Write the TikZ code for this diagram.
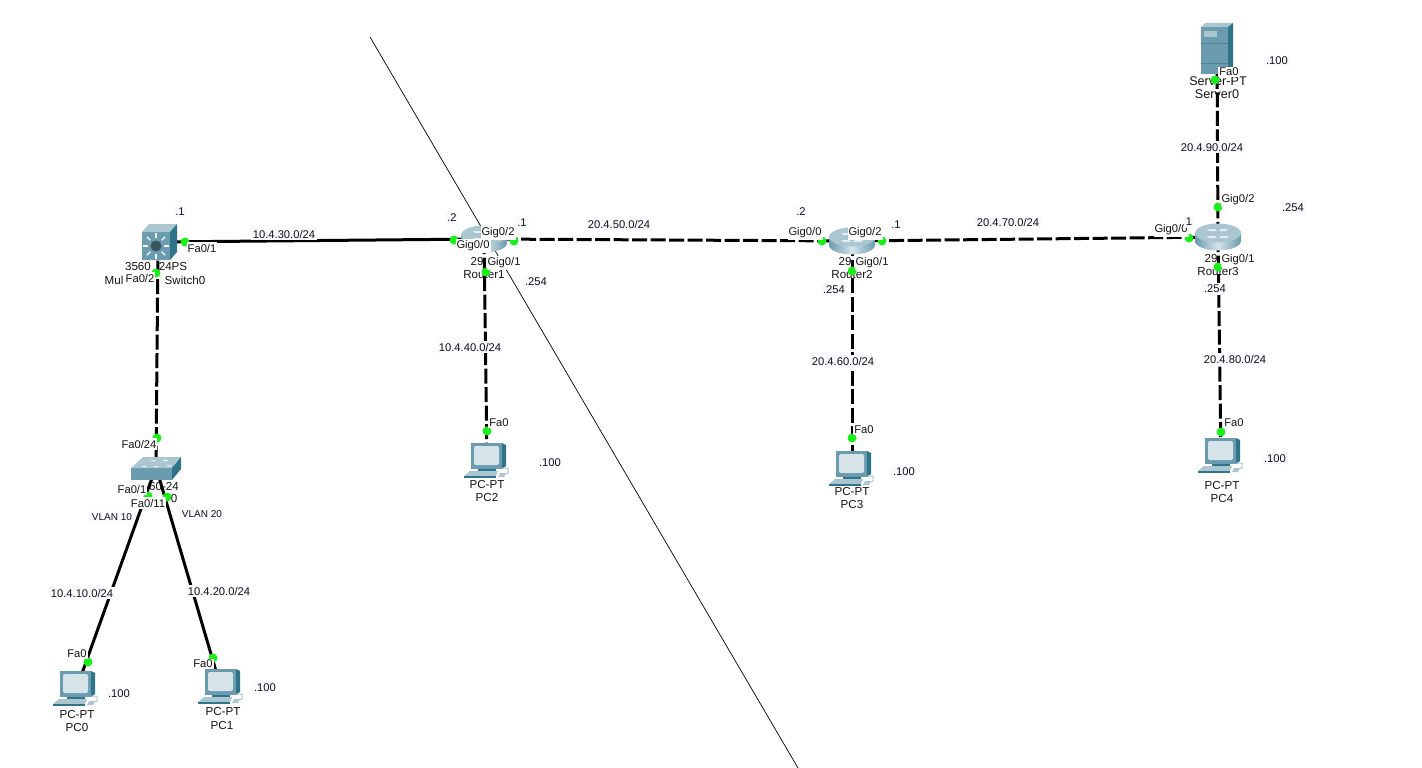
\documentclass[tikz,border=0pt]{standalone}
\usepackage{fontspec}
\setmainfont{Liberation Sans}
\usetikzlibrary{shadings}

\definecolor{icondark}{HTML}{2F7488}
\definecolor{iconmid}{HTML}{6A9BAE}
\definecolor{iconlight}{HTML}{A9C6D1}
\definecolor{iconpale}{HTML}{D6E4EA}
\definecolor{labelbg}{HTML}{F9F9FE}
\definecolor{portgreen}{HTML}{19F019}

\tikzset{
	link/.style={line width=3pt,black},
	xlink/.style={link,dash pattern=on 15pt off 3.5pt},
	devpos/.style={inner sep=0pt,minimum size=0pt},
	port/.style={circle,fill=portgreen,inner sep=0pt,minimum size=9pt},
	devlabel/.style={inner sep=0pt,font=\fontsize{11.6}{13}\selectfont,text=black!92},
	srvlabel/.style={devlabel,font=\fontsize{12.6}{13}\selectfont},
	portlabel/.style={fill=white,inner xsep=1pt,inner ysep=1.5pt,font=\fontsize{11.2}{13}\selectfont,text=black!92},
	netlabel/.style={fill=labelbg,inner xsep=2pt,inner ysep=2pt,font=\fontsize{11.2}{13}\selectfont,text=black!92},
	vlanlabel/.style={netlabel,font=\fontsize{10}{13}\selectfont},
	pcicon/.pic={
		% Monitor
		\fill[iconmid] (-16,-19) -- (15,-19) -- (15,7) -- (-16,7) -- cycle;
		\fill[icondark] (15,-19) -- (19,-17) -- (19,4) -- (15,7) -- cycle;
		\fill[iconpale,rounded corners=2pt] (-13,-16) rectangle (12,3);
		% Base and keyboard
		\fill[icondark] (-9,7) -- (9,7) -- (9,9) -- (-9,9) -- cycle;
		\fill[iconlight] (-17,9) -- (11,9) -- (9,14) -- (-23,14) -- cycle;
		\fill[icondark] (-23,14) -- (9,14) -- (9,16) -- (-23,16) -- cycle;
		\draw[iconlight,line width=1pt] (15,6) -- (21,6) -- (21,11) -- (17,12);
		\fill[iconlight] (13,11) -- (19,11) -- (17,15) -- (11,15) -- cycle;
	},
	routericon/.pic={
		% Body, then top
		\shade[left color=iconmid,right color=iconmid,middle color=iconpale] (-23,-4) -- (-23,4) arc (180:0:23 and 9.5) -- (23,-4) -- cycle;
		\fill[iconlight] (0,-4) ellipse (23 and 9.5);
		\fill[white!70!iconlight] (-11,-8) -- (-3,-8) -- (-1,-6) -- (-9,-6) -- cycle;
		\fill[white!70!iconlight] (3,-1) -- (11,-1) -- (9,1) -- (1,1) -- cycle;
		\fill[white!70!iconlight] (3,-8) -- (10,-8) -- (8,-6) -- (1,-6) -- cycle;
		\fill[white!70!iconlight] (-11,-1) -- (-3,-1) -- (-1,1) -- (-9,1) -- cycle;
	},
	mlsicon/.pic={
		\fill[iconmid] (-16,-10) rectangle (12,18);
		\fill[iconlight] (-16,-10) -- (-9,-18) -- (19,-18) -- (12,-10) -- cycle;
		\fill[icondark] (12,-10) -- (19,-18) -- (19,10) -- (12,18) -- cycle;
		\foreach \ang in {0,45,...,315}
			\draw[white!85!iconlight,line width=1.3pt] (-2,4) ++(\ang:8) -- ++(\ang:5);
		\fill[black!45!iconmid] (-2,4) circle (5.5);
	},
	swicon/.pic={
		\fill[iconmid] (-25,1) rectangle (16,13);
		\fill[iconlight] (-25,1) -- (-13,-10) -- (25,-10) -- (16,1) -- cycle;
		\fill[icondark] (16,1) -- (25,-10) -- (25,2) -- (16,13) -- cycle;
		\foreach \posx/\posy in {-4/-7,8/-7,-13/-1,-1/-1,12/-2}
			\fill[white!80!iconlight] (\posx,\posy) -- ++(4,0) -- ++(-1.5,1.2) -- ++(-4,0) -- cycle;
	},
	servicon/.pic={
		\fill[iconmid] (-16,-21) rectangle (11,26);
		\fill[iconlight] (-16,-21) -- (-12,-25) -- (16,-25) -- (11,-21) -- cycle;
		\fill[icondark] (11,-21) -- (16,-25) -- (16,21) -- (11,26) -- cycle;
		\fill[iconlight] (-13,-17) rectangle (0,-11);
		\draw[icondark!60!iconmid,line width=0.4pt] (-16,-5) -- (11,-5);
		\draw[icondark!60!iconmid,line width=0.4pt] (-16,15) -- (11,15);
	},
}

\begin{document}
\begin{tikzpicture}[x=1pt,y=-1pt]
	\useasboundingbox (0,0) rectangle (1422,768);
	
	% Boundary line
	\coordinate (bordertop) at (370,37);
	\coordinate (borderbot) at (798,768);
	\draw[line width=0.7pt] (bordertop) -- (borderbot);
	
	% Device positions
	\node[devpos] (sw0) at (158,242) {};
	\node[devpos] (sw1) at (156,467) {};
	\node[devpos] (r1) at (484,239) {};
	\node[devpos] (r2) at (852,241) {};
	\node[devpos] (r3) at (1218,237) {};
	\node[devpos] (srv) at (1217,48) {};
	\node[devpos] (pc0) at (76,690) {};
	\node[devpos] (pc1) at (221,688) {};
	\node[devpos] (pc2) at (487,462) {};
	\node[devpos] (pc3) at (852,470) {};
	\node[devpos] (pc4) at (1221,457) {};
	
	% Device names
	\node[devlabel] (sw0a) at (138,267) {3560};
	\node[devlabel] (sw0b) at (173,267) {24PS};
	\node[devlabel] (sw0c) at (114,280) {Mul};
	\node[devlabel] (sw0d) at (185,280) {Switch0};
	\node[devlabel] (sw1a) at (164,487) {60-24};
	\node[devlabel] (sw1b) at (174,499) {0};
	\node[devlabel] (r1a) at (477,262) {29};
	\node[devlabel] (r1b) at (484,275) {Router1};
	\node[devlabel] (r2a) at (845,262) {29};
	\node[devlabel] (r2b) at (852,275) {Router2};
	\node[devlabel] (r3a) at (1211,259) {29};
	\node[devlabel] (r3b) at (1218,272) {Router3};
	\node[srvlabel] (srva) at (1218,81) {Server-PT};
	\node[srvlabel] (srvb) at (1217,94) {Server0};
	\node[devlabel] (pc0a) at (77,714) {PC-PT};
	\node[devlabel] (pc0b) at (77,727) {PC0};
	\node[devlabel] (pc1a) at (223,712) {PC-PT};
	\node[devlabel] (pc1b) at (222,725) {PC1};
	\node[devlabel] (pc2a) at (487,485) {PC-PT};
	\node[devlabel] (pc2b) at (487,498) {PC2};
	\node[devlabel] (pc3a) at (852,492) {PC-PT};
	\node[devlabel] (pc3b) at (852,505) {PC3};
	\node[devlabel] (pc4a) at (1222,486) {PC-PT};
	\node[devlabel] (pc4b) at (1222,499) {PC4};
	
	% Links
	\draw[link] (sw0) -- (r1);
	\draw[xlink] (sw0) -- (sw1);
	\draw[link] (sw1) -- (pc0);
	\draw[link] (sw1) -- (pc1);
	\draw[xlink] (r1) -- (r2);
	\draw[xlink] (r2) -- (r3);
	\draw[xlink] (r1) -- (pc2);
	\draw[xlink] (r2) -- (pc3);
	\draw[xlink] (r3) -- (pc4);
	\draw[xlink] (r3) -- (srv);
	
	% Icons
	\pic at (sw0) {mlsicon};
	\pic at (sw1) {swicon};
	\pic at (r1) {routericon};
	\pic at (r2) {routericon};
	\pic at (r3) {routericon};
	\pic at (srv) {servicon};
	\pic at (pc0) {pcicon};
	\pic at (pc1) {pcicon};
	\pic at (pc2) {pcicon};
	\pic at (pc3) {pcicon};
	\pic at (pc4) {pcicon};
	
	% Port dots
	\foreach \dotname/\dotx/\doty in {sw0p1/185/242,sw0p2/156/273,sw1p24/157/438,sw1p1/148/496,sw1p2/167/497,pc0p/88/662,pc1p/213/658,
		r1p0/454/240,r1p1/486/272,r1p2/514/241,r2p0/822/241,r2p1/852/271,r2p2/882/241,r3p0/1189/238,r3p1/1218/267,r3p2/1218/207,
		pc2p/487/431,pc3p/852/438,pc4p/1221/432,srvp/1215/80}
		\node[port] (\dotname) at (\dotx,\doty) {};
	
	% Port names
	\node[portlabel] (lsw0p1) at (202,248) {Fa0/1};
	\node[portlabel] (lsw0p2) at (140,278) {Fa0/2};
	\node[portlabel] (lsw1p24) at (139,444) {Fa0/24};
	\node[portlabel] (lsw1p1) at (132,489) {Fa0/1};
	\node[portlabel] (lsw1p2) at (148,503) {Fa0/11};
	\node[portlabel] (lpc0) at (77,654) {Fa0};
	\node[portlabel] (lpc1) at (203,664) {Fa0};
	\node[portlabel] (lr1p2) at (498,233) {Gig0/2};
	\node[portlabel] (lr1p0) at (473,246) {Gig0/0};
	\node[portlabel] (lr1p1) at (504,263) {Gig0/1};
	\node[portlabel] (lr2p0) at (805,233) {Gig0/0};
	\node[portlabel] (lr2p2) at (865,233) {Gig0/2};
	\node[portlabel] (lr2p1) at (872,263) {Gig0/1};
	\node[portlabel] (lr3p0) at (1171,230) {Gig0/0};
	\node[portlabel] (lr3p2) at (1238,200) {Gig0/2};
	\node[portlabel] (lr3p1) at (1238,260) {Gig0/1};
	\node[portlabel] (lsrv) at (1229,72) {Fa0};
	\node[portlabel] (lpc2) at (499,423) {Fa0};
	\node[portlabel] (lpc3) at (864,430) {Fa0};
	\node[portlabel] (lpc4) at (1234,423) {Fa0};
	
	% Networks
	\node[netlabel] (n30) at (284,234) {10.4.30.0/24};
	\node[netlabel] (n50) at (619,224) {20.4.50.0/24};
	\node[netlabel] (n70) at (1008,222) {20.4.70.0/24};
	\node[netlabel] (n90) at (1212,147) {20.4.90.0/24};
	\node[netlabel] (n80) at (1235,359) {20.4.80.0/24};
	\node[netlabel] (n60) at (843,361) {20.4.60.0/24};
	\node[netlabel] (n40) at (470,347) {10.4.40.0/24};
	\node[netlabel] (n10) at (82,593) {10.4.10.0/24};
	\node[netlabel] (n20) at (219,591) {10.4.20.0/24};
	\node[vlanlabel] (v10) at (112,517) {VLAN 10};
	\node[vlanlabel] (v20) at (202,514) {VLAN 20};
	
	% Addresses
	\node[netlabel] (a1) at (180,212) {.1};
	\node[netlabel] (a2) at (452,218) {.2};
	\node[netlabel] (a3) at (522,223) {.1};
	\node[netlabel] (a4) at (536,282) {.254};
	\node[netlabel] (a5) at (801,212) {.2};
	\node[netlabel] (a6) at (896,225) {.1};
	\node[netlabel] (a7) at (834,290) {.254};
	\node[netlabel] (a8) at (1189,222) {1};
	\node[netlabel] (a9) at (1215,289) {.254};
	\node[netlabel] (a10) at (1293,208) {.254};
	\node[netlabel] (a11) at (1277,61) {.100};
	\node[netlabel] (a12) at (550,463) {.100};
	\node[netlabel] (a13) at (904,472) {.100};
	\node[netlabel] (a14) at (1275,459) {.100};
	\node[netlabel] (a15) at (119,694) {.100};
	\node[netlabel] (a16) at (265,688) {.100};
	
\end{tikzpicture}
\end{document}
